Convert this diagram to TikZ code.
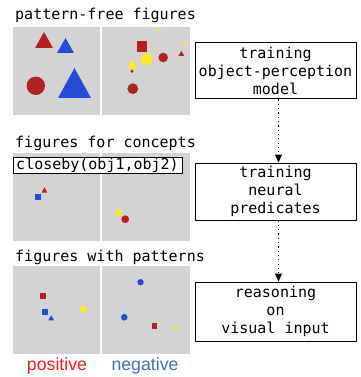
\documentclass[tikz,border=0pt]{standalone}
\usepackage{fontspec}
\setmonofont{DejaVu Sans Mono}
\setsansfont{Liberation Sans}
\usetikzlibrary{arrows.meta}
\definecolor{figred}{RGB}{178,34,34}
\definecolor{figblue}{RGB}{40,75,215}
\definecolor{figyellow}{RGB}{255,232,40}
\definecolor{panelgray}{RGB}{211,211,211}
\definecolor{posred}{RGB}{240,30,30}
\definecolor{negblue}{RGB}{70,110,180}
\tikzset{
	mono/.style={font=\ttfamily\fontsize{15}{18}\selectfont},
	rowtitle/.style={mono, anchor=west, inner sep=0pt},
	stagebox/.style={mono, draw, line width=1pt, minimum width=161pt, align=center, inner sep=0pt},
	flow/.style={line width=1.2pt, dash pattern=on 1.2pt off 3.1pt, -{Triangle[width=7pt,length=8pt]}},
	verdict/.style={font=\sffamily\fontsize{17.7}{20}\selectfont, inner sep=0pt},
}
\begin{document}
\begin{tikzpicture}[x=1pt, y=-1pt, line join=round]
	\useasboundingbox (0,0) rectangle (360,377);
	\def\tri#1#2#3#4#5{\fill[#1] (#2,#3) -- (#2-#4,#5) -- (#2+#4,#5) -- cycle;}
	% gray panels
	\foreach \t in {27,153,266}{
		\fill[panelgray] (13,\t) rectangle +(87,88);
		\fill[panelgray] (102,\t) rectangle +(88,88);
	}
	% row titles
	\node[rowtitle] (t1) at (15,15) {pattern-free figures};
	\node[rowtitle] (t2) at (15,143.3) {figures for concepts};
	\node[rowtitle] (t3) at (15,257) {figures with patterns};
	% pattern-free figures
	\tri{figred}{44}{32}{9}{48}
	\tri{figblue}{65.5}{38}{8.5}{53}
	\tri{figblue}{74.5}{68}{16.5}{98}
	\fill[figred] (35.8,85.8) circle[radius=9.2pt];
	\fill[figyellow] (159.3,30.7) circle[radius=1.4pt];
	\fill[figyellow] (183.3,43.3) circle[radius=1.8pt];
	\fill[figred] (136.7,41) rectangle (147.3,51.7);
	\fill[figyellow] (146.8,59.2) circle[radius=5.8pt];
	\fill[figred] (163.2,57.5) circle[radius=4.8pt];
	\tri{figred}{181.3}{51}{3}{56}
	\tri{figyellow}{132.5}{59.3}{5.2}{69}
	\fill[figred] (132,71.3) circle[radius=1.7pt];
	\fill[figred] (132.8,88.7) circle[radius=5.4pt];
	% figures for concepts
	\node[mono, draw, line width=1pt, fill=white, inner sep=0pt, minimum width=169pt, minimum height=16pt] (cb) at (97.5,165) {closeby(obj1,obj2)};
	\tri{figred}{44.5}{187.3}{2.8}{192.7}
	\fill[figblue] (35.3,194) rectangle (41,199.7);
	\fill[figyellow] (118.8,212.7) circle[radius=3.5pt];
	\fill[figred] (125.2,219.2) circle[radius=3.9pt];
	% figures with patterns
	\fill[figred] (39.7,293.3) rectangle (45.7,299.3);
	\fill[figblue] (42.3,309) rectangle (48.3,315);
	\tri{figblue}{51.2}{315.3}{2.9}{320.3}
	\fill[figyellow] (83.3,309.3) circle[radius=3.7pt];
	\fill[figblue] (140.5,282.2) circle[radius=3.2pt];
	\fill[figblue] (124.3,317.3) circle[radius=3.3pt];
	\fill[figred] (152,323.3) rectangle (157.3,328.7);
	\tri{figyellow}{175.7}{325}{2.7}{329.3}
	\node[verdict, text=posred] (pos) at (57,365.5) {positive};
	\node[verdict, text=negblue] (neg) at (145,365.5) {negative};
	% stages
	\node[stagebox, minimum height=56pt] (b1) at (275.5,71) {training\\object-perception\\model};
	\node[stagebox, minimum height=57pt] (b2) at (275.5,191.5) {training\\neural\\predicates};
	\node[stagebox, minimum height=59pt] (b3) at (275.5,311.5) {reasoning\\on\\visual input};
	\draw[flow] ([xshift=3pt]b1.south) -- ([xshift=3pt]b2.north);
	\draw[flow] ([xshift=3pt]b2.south) -- ([xshift=3pt]b3.north);
\end{tikzpicture}
\end{document}
